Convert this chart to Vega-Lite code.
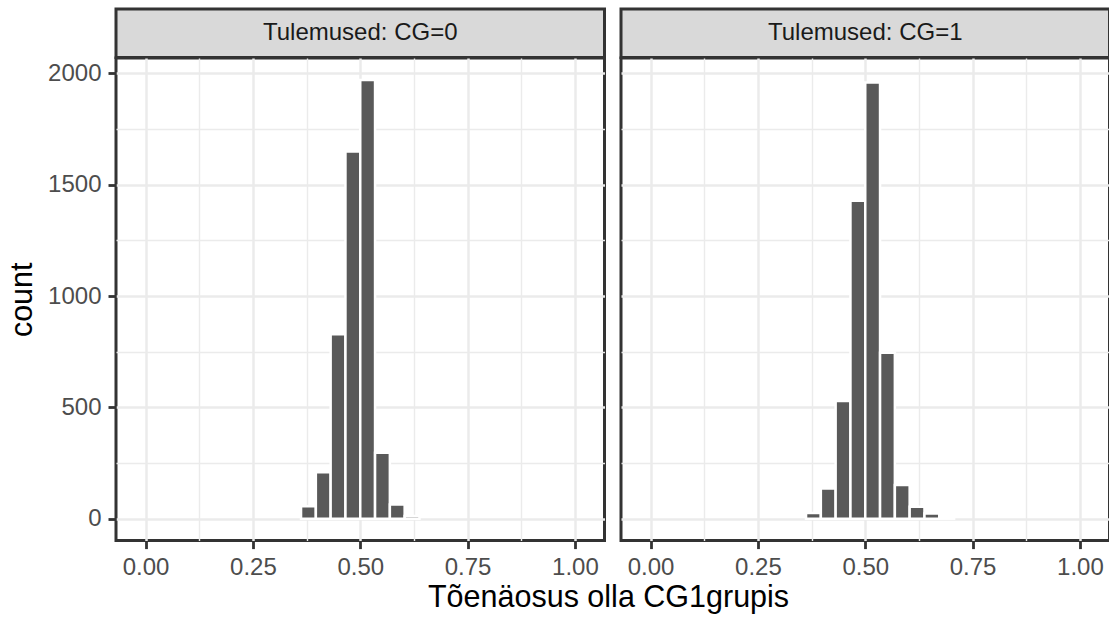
{
  "$schema": "https://vega.github.io/schema/vega-lite/v6.json",
  "background": "white",
  "padding": {"left": 6, "top": 7, "right": 0, "bottom": 4},
  "datasets": {
    "panels": [
      {"gruppi": "CG=0", "label": "Tulemused: CG=0"},
      {"gruppi": "CG=1", "label": "Tulemused: CG=1"}
    ],
    "bins": [
      {"gruppi": "CG=0", "start": 0.362069, "end": 0.396552, "count": 56},
      {"gruppi": "CG=0", "start": 0.396552, "end": 0.431034, "count": 208},
      {"gruppi": "CG=0", "start": 0.431034, "end": 0.465517, "count": 828},
      {"gruppi": "CG=0", "start": 0.465517, "end": 0.5, "count": 1649},
      {"gruppi": "CG=0", "start": 0.5, "end": 0.534483, "count": 1971},
      {"gruppi": "CG=0", "start": 0.534483, "end": 0.568966, "count": 296},
      {"gruppi": "CG=0", "start": 0.568966, "end": 0.603448, "count": 64},
      {"gruppi": "CG=0", "start": 0.603448, "end": 0.637931, "count": 12},
      {"gruppi": "CG=1", "start": 0.362069, "end": 0.396552, "count": 26},
      {"gruppi": "CG=1", "start": 0.396552, "end": 0.431034, "count": 136},
      {"gruppi": "CG=1", "start": 0.431034, "end": 0.465517, "count": 529},
      {"gruppi": "CG=1", "start": 0.465517, "end": 0.5, "count": 1428},
      {"gruppi": "CG=1", "start": 0.5, "end": 0.534483, "count": 1960},
      {"gruppi": "CG=1", "start": 0.534483, "end": 0.568966, "count": 745},
      {"gruppi": "CG=1", "start": 0.568966, "end": 0.603448, "count": 151},
      {"gruppi": "CG=1", "start": 0.603448, "end": 0.637931, "count": 53},
      {"gruppi": "CG=1", "start": 0.637931, "end": 0.672414, "count": 23},
      {"gruppi": "CG=1", "start": 0.672414, "end": 0.706897, "count": 8}
    ]
  },
  "title": {
    "text": "Tõenäosus olla CG1grupis",
    "orient": "bottom",
    "anchor": "middle",
    "fontSize": 30.5,
    "fontWeight": "normal",
    "font": "Liberation Sans",
    "color": "#000000",
    "offset": 2,
    "dx": 50
  },
  "config": {
    "font": "Liberation Sans",
    "view": {"stroke": "#333333", "strokeWidth": 3},
    "axis": {
      "domain": false,
      "labelFont": "Liberation Sans",
      "labelFontSize": 24,
      "labelColor": "#4D4D4D",
      "tickColor": "#333333",
      "tickWidth": 2.8,
      "tickSize": 8,
      "labelPadding": 7,
      "gridColor": "#EBEBEB",
      "gridWidth": 2.5,
      "titleFont": "Liberation Sans",
      "titleFontSize": 30.5,
      "titleFontWeight": "normal",
      "titleColor": "#000000"
    }
  },
  "columns": 2,
  "spacing": {"row": 0, "column": 16},
  "bounds": "flush",
  "align": "each",
  "concat": [
    {
      "data": {"name": "panels"},
      "transform": [{"filter": "datum.gruppi === 'CG=0'"}],
      "width": 488.5,
      "height": 48.4,
      "view": {"fill": "#D9D9D9", "stroke": "#333333", "strokeWidth": 3},
      "mark": {"type": "text", "fontSize": 24, "color": "#1A1A1A", "font": "Liberation Sans"},
      "encoding": {"text": {"field": "label"}}
    },
    {
      "data": {"name": "panels"},
      "transform": [{"filter": "datum.gruppi === 'CG=1'"}],
      "width": 488.5,
      "height": 48.4,
      "view": {"fill": "#D9D9D9", "stroke": "#333333", "strokeWidth": 3},
      "mark": {"type": "text", "fontSize": 24, "color": "#1A1A1A", "font": "Liberation Sans"},
      "encoding": {"text": {"field": "label"}}
    },
    {
      "data": {"name": "bins"},
      "transform": [{"filter": "datum.gruppi === 'CG=0'"}],
      "width": 488.5,
      "height": 482.6,
      "layer": [
        {
          "mark": {"type": "bar", "opacity": 0},
          "encoding": {
            "x": {"field": "start", "type": "quantitative",
                  "scale": {"domain": [-0.068966, 1.068966], "nice": false, "zero": false},
                  "axis": {"orient": "top", "values": [0.125, 0.375, 0.625, 0.875], "grid": true, "gridWidth": 1.4, "labels": false, "ticks": false, "title": null}},
            "x2": {"field": "end"},
            "y": {"field": "count", "type": "quantitative", "stack": null,
                  "scale": {"domain": [-98.55, 2069.55], "nice": false, "zero": false},
                  "axis": {"orient": "right", "values": [250, 750, 1250, 1750], "grid": true, "gridWidth": 1.4, "labels": false, "ticks": false, "title": null}},
            "y2": {"datum": 0}
          }
        },
        {
          "mark": {"type": "bar", "fill": "#595959", "stroke": "#FFFFFF", "strokeWidth": 2.5},
          "encoding": {
            "x": {"field": "start", "type": "quantitative",
                  "scale": {"domain": [-0.068966, 1.068966], "nice": false, "zero": false},
                  "axis": {"orient": "bottom", "values": [0, 0.25, 0.5, 0.75, 1], "format": ".2f", "grid": true, "title": null}},
            "x2": {"field": "end"},
            "y": {"field": "count", "type": "quantitative", "stack": null,
                  "scale": {"domain": [-98.55, 2069.55], "nice": false, "zero": false},
                  "axis": {"orient": "left", "values": [0, 500, 1000, 1500, 2000], "format": "d", "grid": true, "title": "count", "titlePadding": 10}},
            "y2": {"datum": 0}
          }
        }
      ],
      "resolve": {"axis": {"x": "independent", "y": "independent"}}
    },
    {
      "data": {"name": "bins"},
      "transform": [{"filter": "datum.gruppi === 'CG=1'"}],
      "width": 488.5,
      "height": 482.6,
      "layer": [
        {
          "mark": {"type": "bar", "opacity": 0},
          "encoding": {
            "x": {"field": "start", "type": "quantitative",
                  "scale": {"domain": [-0.068966, 1.068966], "nice": false, "zero": false},
                  "axis": {"orient": "top", "values": [0.125, 0.375, 0.625, 0.875], "grid": true, "gridWidth": 1.4, "labels": false, "ticks": false, "title": null}},
            "x2": {"field": "end"},
            "y": {"field": "count", "type": "quantitative", "stack": null,
                  "scale": {"domain": [-98.55, 2069.55], "nice": false, "zero": false},
                  "axis": {"orient": "right", "values": [250, 750, 1250, 1750], "grid": true, "gridWidth": 1.4, "labels": false, "ticks": false, "title": null}},
            "y2": {"datum": 0}
          }
        },
        {
          "mark": {"type": "bar", "fill": "#595959", "stroke": "#FFFFFF", "strokeWidth": 2.5},
          "encoding": {
            "x": {"field": "start", "type": "quantitative",
                  "scale": {"domain": [-0.068966, 1.068966], "nice": false, "zero": false},
                  "axis": {"orient": "bottom", "values": [0, 0.25, 0.5, 0.75, 1], "format": ".2f", "grid": true, "title": null}},
            "x2": {"field": "end"},
            "y": {"field": "count", "type": "quantitative", "stack": null,
                  "scale": {"domain": [-98.55, 2069.55], "nice": false, "zero": false},
                  "axis": {"orient": "left", "values": [0, 500, 1000, 1500, 2000], "grid": true, "labels": false, "ticks": false, "title": null}},
            "y2": {"datum": 0}
          }
        }
      ],
      "resolve": {"axis": {"x": "independent", "y": "independent"}}
    }
  ]
}
